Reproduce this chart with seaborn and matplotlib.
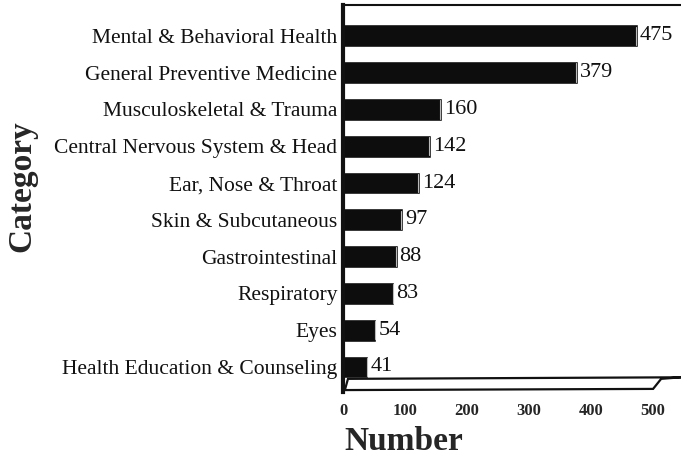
import matplotlib
matplotlib.use("Agg")
import matplotlib.pyplot as plt
from matplotlib.patches import Polygon
import seaborn as sns
import pandas as pd

categories = [
    "Mental & Behavioral Health",
    "General Preventive Medicine",
    "Musculoskeletal & Trauma",
    "Central Nervous System & Head",
    "Ear, Nose & Throat",
    "Skin & Subcutaneous",
    "Gastrointestinal",
    "Respiratory",
    "Eyes",
    "Health Education & Counseling",
]
counts = [475, 379, 160, 142, 124, 97, 88, 83, 54, 41]
x_ticks = [0, 100, 200, 300, 400, 500]

df = pd.DataFrame({"Category": categories, "Number": counts})

sns.set_theme(style="white")
plt.rcParams["font.family"] = ["Liberation Serif", "DejaVu Serif"]

fig = plt.figure(figsize=(6.81, 4.66), dpi=100)
ax = fig.add_axes([343 / 681, 1 - 392 / 466, 338 / 681, 387 / 466])

sns.barplot(data=df, y="Category", x="Number", orient="h", color="#0d0d0d",
            width=0.62, saturation=1, ax=ax)

ax.set_xlim(0, 545)
ax.set_ylim(9.68, -0.84)

# value labels at the bar ends
for i, v in enumerate(counts):
    ax.text(v + 3, i, str(v), va="center", ha="left", fontsize=16, color="#111")

# thin light edge near each bar end for the raised look
for i, v in enumerate(counts):
    ax.plot([v - 3, v - 3], [i - 0.25, i + 0.25], color="#bbbbbb", lw=0.8)

# floor slab under the bars
floor = Polygon([[3, 0.005], [500, 0.008], [513, 0.034], [545, 0.038], [8, 0.034]],
                closed=True, facecolor="white", edgecolor="#111", lw=1.6,
                transform=ax.get_xaxis_transform(), clip_on=False, zorder=3)
ax.add_patch(floor)

ax.set_xticks(x_ticks)
ax.set_xticklabels([str(t) for t in x_ticks], fontsize=12, fontweight="bold")
ax.tick_params(axis="x", length=0, pad=8)
ax.tick_params(axis="y", length=0, pad=4)
for lab in ax.get_yticklabels():
    lab.set_fontsize(15.5)
    lab.set_color("#111")

for side in ["right", "bottom"]:
    ax.spines[side].set_visible(False)
ax.spines["left"].set_linewidth(3)
ax.spines["left"].set_color("#111")
ax.spines["top"].set_linewidth(1.5)
ax.spines["top"].set_color("#111")

ax.set_xlabel("")
ax.set_ylabel("")
fig.text(404 / 681, 1 - 442 / 466, "Number", fontsize=24, fontweight="bold",
         ha="center", va="center")
fig.text(22 / 681, 1 - 186 / 466, "Category", rotation=90, fontsize=24,
         fontweight="bold", ha="center", va="center")

fig.savefig("out.png", dpi=100)
